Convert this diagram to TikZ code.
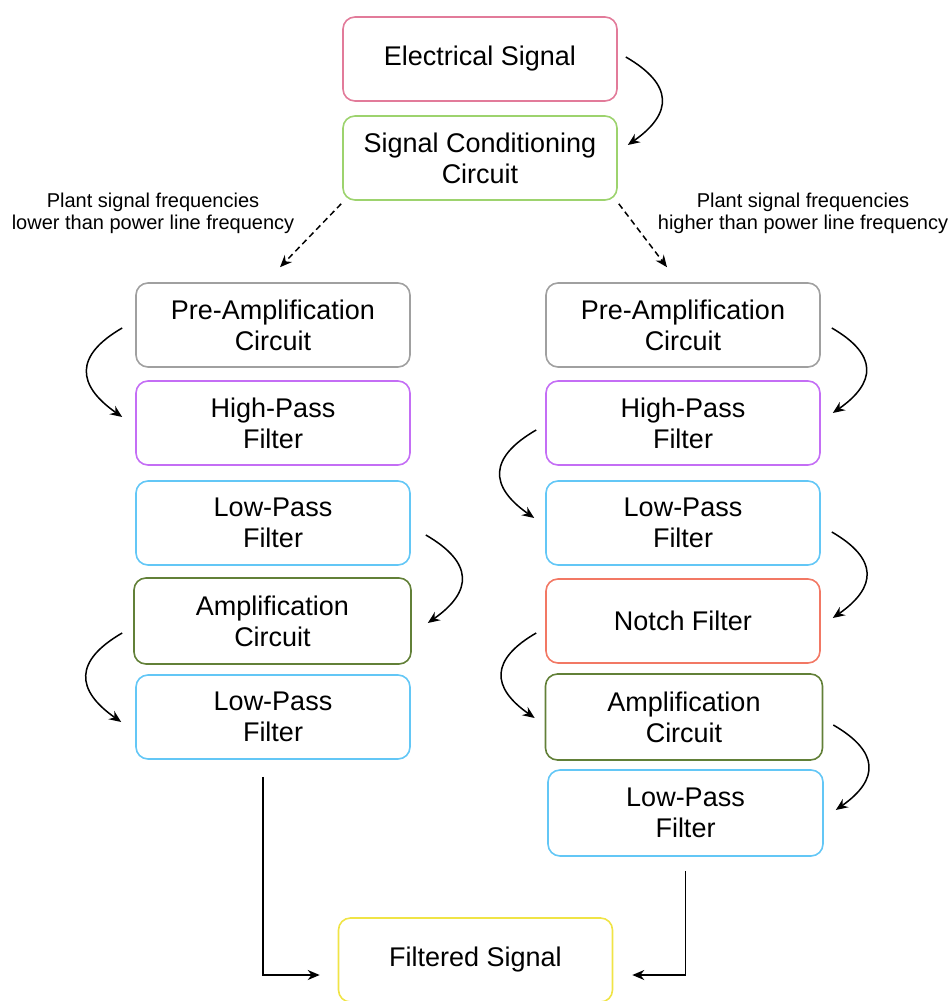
\documentclass[tikz,border=0pt]{standalone}
\usepackage{fontspec}
\setmainfont{Liberation Sans}
\usetikzlibrary{arrows.meta}
\definecolor{elecpink}{RGB}{226,123,154}
\definecolor{condgreen}{RGB}{157,211,110}
\definecolor{pregray}{RGB}{160,160,160}
\definecolor{hppurple}{RGB}{196,110,245}
\definecolor{lpblue}{RGB}{99,199,246}
\definecolor{ampgreen}{RGB}{98,128,56}
\definecolor{notchred}{RGB}{242,120,100}
\definecolor{filtyellow}{RGB}{240,228,70}
\tikzset{
  block/.style={draw, rounded corners=12pt, line width=1.6pt, minimum width=274pt,
    minimum height=84pt, align=center, font=\fontsize{27}{31}\selectfont},
  curvy/.style={-{Stealth[length=12pt,width=10pt]}, line width=1.5pt, looseness=1.6},
  branch/.style={-{Stealth[length=12pt,width=10pt]}, line width=1.5pt, dash pattern=on 6pt off 4pt},
  outline/.style={-{Stealth[length=12pt,width=10pt]}, line width=1.5pt},
  note/.style={align=center, font=\fontsize{20}{22}\selectfont}
}

\begin{document}
\begin{tikzpicture}[x=1pt,y=1pt]
			%%%%% START %%%%%
			\useasboundingbox (0,0) rectangle (950,-1001);
			
			\node[block, draw=elecpink] (elec) at (480,-59) {Electrical Signal};
			\node[block, draw=condgreen] (scc) at (480,-158) {Signal Conditioning\\Circuit};
			
			\node[note] (lownote) at (153,-213) {Plant signal frequencies\\lower than power line frequency};
			\node[note] (highnote) at (803,-213) {Plant signal frequencies\\higher than power line frequency};
			
			% left branch
			\node[block, draw=pregray] (lpre) at (273,-325) {Pre-Amplification\\Circuit};
			\node[block, draw=hppurple] (lhp) at (273,-423) {High-Pass\\Filter};
			\node[block, draw=lpblue] (llpa) at (273,-523) {Low-Pass\\Filter};
			\node[block, draw=ampgreen, minimum width=277pt, minimum height=86pt] (lamp) at (272.5,-621) {Amplification\\Circuit};
			\node[block, draw=lpblue] (llpb) at (273,-717) {Low-Pass\\Filter};
			
			% right branch
			\node[block, draw=pregray] (rpre) at (683,-325) {Pre-Amplification\\Circuit};
			\node[block, draw=hppurple] (rhp) at (683,-423) {High-Pass\\Filter};
			\node[block, draw=lpblue] (rlpa) at (683,-523) {Low-Pass\\Filter};
			\node[block, draw=notchred] (rnotch) at (683,-621) {Notch Filter};
			\node[block, draw=ampgreen, minimum width=277pt, minimum height=86pt] (ramp) at (684,-717) {Amplification\\Circuit};
			\node[block, draw=lpblue, minimum width=275pt, minimum height=86pt] (rlpb) at (685.5,-813) {Low-Pass\\Filter};
			
			\node[block, draw=filtyellow] (filt) at (475.5,-960) {Filtered Signal};
			
			% connectors
			\draw[curvy] ([shift={(8,2)}]elec.east) to[out=-30,in=35] ([shift={(10,13)}]scc.east);
			\draw[branch] ([shift={(-1,-3)}]scc.south west) -- ([shift={(7,15)}]lpre.north);
			\draw[branch] ([shift={(1,-3)}]scc.south east) -- ([shift={(-16,15)}]rpre.north);
			
			\draw[curvy] ([shift={(-13,-3)}]lpre.west) to[out=210,in=145] ([shift={(-13,6)}]lhp.west);
			\draw[curvy] ([shift={(15,-12)}]llpa.east) to[out=-30,in=35] ([shift={(16,-2)}]lamp.east);
			\draw[curvy] ([shift={(-11,-12)}]lamp.west) to[out=210,in=145] ([shift={(-14,-5)}]llpb.west);
			
			\draw[curvy] ([shift={(11,-3)}]rpre.east) to[out=-30,in=35] ([shift={(12,10)}]rhp.east);
			\draw[curvy] ([shift={(-9,-7)}]rhp.west) to[out=210,in=145] ([shift={(-11,5)}]rlpa.west);
			\draw[curvy] ([shift={(11,-9)}]rlpa.east) to[out=-30,in=35] ([shift={(12,3)}]rnotch.east);
			\draw[curvy] ([shift={(-9,-12)}]rnotch.west) to[out=210,in=145] ([shift={(-10,-1)}]ramp.west);
			\draw[curvy] ([shift={(10,-8)}]ramp.east) to[out=-30,in=35] ([shift={(12,3)}]rlpb.east);
			
			\draw[outline] ([shift={(-10,-17)}]llpb.south) |- ([shift={(-18,-15)}]filt.west);
			\draw[outline] ([shift={(0,-14)}]rlpb.south) |- ([shift={(19,-15)}]filt.east);
			%%%%% END %%%%%
\end{tikzpicture}
\end{document}
